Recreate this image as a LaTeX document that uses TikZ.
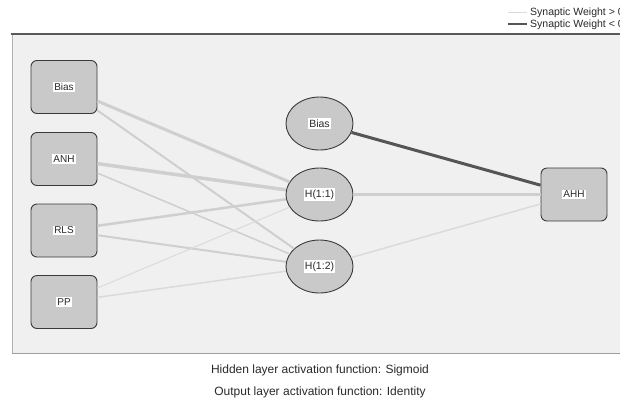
\documentclass[tikz,border=0pt]{standalone}
\usepackage{fontspec}
\setmainfont{Liberation Sans}
\usetikzlibrary{shapes.geometric}
\definecolor{panelfill}{HTML}{F0F0F0}
\definecolor{nodefill}{HTML}{C9C9C9}
\definecolor{nodeborder}{HTML}{3A3A3A}
\definecolor{poscol}{HTML}{CFCFCF}
\definecolor{poslight}{HTML}{DADADA}
\definecolor{negcol}{HTML}{555555}
\definecolor{txtcol}{HTML}{2A2A2A}
\newcommand{\wlbl}[1]{{\setlength{\fboxsep}{1.2pt}\colorbox{white}{#1}}}
\begin{document}
\begin{tikzpicture}[x=1pt,y=-1pt,
  inbox/.style={draw=nodeborder, fill=nodefill, rounded corners=6pt,
    minimum width=66pt, minimum height=53pt, inner sep=0pt, line width=0.9pt,
    font=\fontsize{10}{12}\selectfont, text=txtcol},
  hidnode/.style={ellipse, draw=nodeborder, fill=nodefill,
    minimum width=67pt, minimum height=53pt, inner sep=0pt, line width=0.9pt,
    font=\fontsize{10.5}{12}\selectfont, text=txtcol},
  posw/.style={draw=poscol, line width=#1},
  posl/.style={draw=poslight, line width=#1},
  negw/.style={draw=negcol, line width=#1},
  legtext/.style={anchor=west, inner sep=0pt, font=\fontsize{10.5}{12}\selectfont, text=txtcol},
  caption/.style={inner sep=0pt, font=\fontsize{12}{14}\selectfont, text=txtcol},
]
\useasboundingbox (0,0) rectangle (620,405);
\fill[white] (0,0) rectangle (620,405);
% panel
\fill[panelfill] (12,34) rectangle (625,353);
\draw[gray!60, line width=0.8pt] (12,353) -- (12,34);
\draw[black!65, line width=1.3pt] (11.4,34) -- (625,34);
\draw[gray!75, line width=1pt] (12,353) -- (625,353);

% legend
\coordinate (l1a) at (508,12);
\coordinate (l1b) at (527,12);
\coordinate (l2a) at (508,24);
\coordinate (l2b) at (527,24);
\draw[posl=1pt] (l1a) -- (l1b);
\draw[negw=1.4pt] (l2a) -- (l2b);
\node[legtext] (lt1) at (530,12.5) {Synaptic Weight > 0};
\node[legtext] (lt2) at (530,24.5) {Synaptic Weight < 0};

% input layer
\node[inbox] (ibias) at (64,87) {\wlbl{Bias}};
\node[inbox] (anh) at (64,159) {\wlbl{ANH}};
\node[inbox] (rls) at (64,230.5) {\wlbl{RLS}};
\node[inbox] (pp) at (64,302) {\wlbl{PP}};

% hidden layer
\node[hidnode] (hbias) at (319.5,123.5) {\wlbl{Bias}};
\node[hidnode] (h11) at (319.5,194.5) {\wlbl{H(1:1)}};
\node[hidnode] (h12) at (319.5,266.5) {\wlbl{H(1:2)}};

% output layer
\node[inbox] (ahh) at (574,194.5) {\wlbl{AHH}};

% connections input -> hidden
\draw[posw=3pt] (ibias) -- (h11);
\draw[posw=2pt] (ibias) -- (h12);
\draw[posw=3.5pt] (anh) -- (h11);
\draw[posw=1.5pt] (anh) -- (h12);
\draw[posw=2.5pt] (rls) -- (h11);
\draw[posw=2pt] (rls) -- (h12);
\draw[posl=1pt] (pp) -- (h11);
\draw[posl=1.5pt] (pp) -- (h12);

% connections hidden -> output
\draw[negw=3pt] (hbias) -- (ahh);
\draw[posw=2.5pt] (h11) -- (ahh);
\draw[posl=1.5pt] (h12) -- (ahh);

% captions
\node[caption] (cap1) at (320,370) {Hidden layer activation function: Sigmoid};
\node[caption] (cap2) at (320,392) {Output layer activation function: Identity};
\end{tikzpicture}
\end{document}
